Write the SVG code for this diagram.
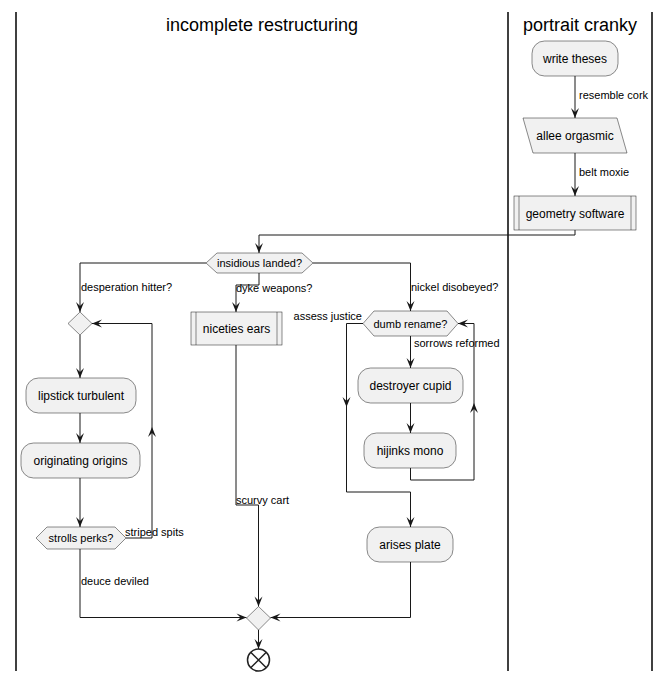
<svg xmlns="http://www.w3.org/2000/svg" width="670" height="681" viewBox="0 0 670 681">
<defs>
<style>
text{font-family:"Liberation Sans",Arial,sans-serif;fill:#000}
.t{font-size:18px;text-anchor:middle}
.n{font-size:12px;text-anchor:middle}
.h{font-size:11px;text-anchor:middle}
.l{font-size:11px}
.box{fill:#F1F1F1;stroke:#181818;stroke-width:0.5}
.lane{stroke:#000;stroke-width:1.5}
.c{fill:none;stroke:#181818;stroke-width:1}
.a{marker-end:url(#arr)}
</style>
<marker id="arr" viewBox="-11 -5 12 10" refX="0" refY="0" markerWidth="12" markerHeight="10" markerUnits="userSpaceOnUse" orient="auto">
<path d="M0,0 L-10,-4 L-6,0 L-10,4 Z" fill="#181818"/>
</marker>
</defs>
<rect width="670" height="681" fill="#fff"/>
<g id="lanes">
<line class="lane" x1="16" y1="12" x2="16" y2="671"/>
<line class="lane" x1="508" y1="12" x2="508" y2="671"/>
<line class="lane" x1="652" y1="12" x2="652" y2="671"/>
<text class="t" x="262" y="31">incomplete restructuring</text>
<text class="t" x="580" y="31">portrait cranky</text>
</g>
<g id="connectors">
<path class="c a" d="M575,76 V118"/>
<path class="c a" d="M575,153 V196"/>
<path class="c a" d="M575,230 V235 H259 V253"/>
<path class="c a" d="M206,263 H80 V312"/>
<path class="c a" d="M259,273 V285 H236 V312"/>
<path class="c a" d="M313,263 H410.5 V311"/>
<path class="c a" d="M80,335 V378"/>
<path class="c a" d="M80,413 V443"/>
<path class="c a" d="M80,478 V527"/>
<path class="c a" d="M126,538 H152 V427"/>
<path class="c a" d="M152,427 V323.5 H92"/>
<path class="c a" d="M80,549 V617.5 H246.5"/>
<path class="c a" d="M236,345 V505 H258.5 V606.5"/>
<path class="c a" d="M410.5,336 V368"/>
<path class="c a" d="M410.5,403 V433"/>
<path class="c a" d="M410.5,468 V480 H474 V403"/>
<path class="c a" d="M474,403 V323.5 H458"/>
<path class="c a" d="M363,323.5 H346.5 V407"/>
<path class="c a" d="M346.5,407 V492 H410.5 V527"/>
<path class="c a" d="M410.5,562 V617.5 H270.5"/>
<path class="c a" d="M258.5,630 V649"/>
<text class="l" x="579" y="99">resemble cork</text>
<text class="l" x="579" y="176">belt moxie</text>
<text class="l" x="81" y="291">desperation hitter?</text>
<text class="l" x="236" y="292">dyke weapons?</text>
<text class="l" x="411" y="291">nickel disobeyed?</text>
<text class="l" x="362" y="320" text-anchor="end">assess justice</text>
<text class="l" x="414" y="347">sorrows reformed</text>
<text class="l" x="125" y="536">striped spits</text>
<text class="l" x="81" y="585">deuce deviled</text>
<text class="l" x="236" y="504">scurvy cart</text>
</g>
<g id="write_theses">
<rect class="box" x="532" y="41" width="86" height="35" rx="12.5"/>
<text class="n" x="575" y="62.5">write theses</text>
</g>
<g id="allee_orgasmic">
<polygon class="box" points="523,118 617,118 627,153 533,153"/>
<text class="n" x="575" y="139.5">allee orgasmic</text>
</g>
<g id="geometry_software">
<rect class="box" x="514" y="196" width="122" height="34"/>
<line class="box" x1="519" y1="196" x2="519" y2="230"/>
<line class="box" x1="631" y1="196" x2="631" y2="230"/>
<text class="n" x="575" y="217.5">geometry software</text>
</g>
<g id="insidious_landed">
<polygon class="box" points="206,263 217,253 302,253 313,263 302,273 217,273"/>
<text class="h" x="259.5" y="267">insidious landed?</text>
</g>
<g id="loop_merge">
<polygon class="box" points="80,312 92,323.5 80,335 68,323.5"/>
</g>
<g id="lipstick_turbulent">
<rect class="box" x="26" y="378" width="110" height="35" rx="12.5"/>
<text class="n" x="81" y="400">lipstick turbulent</text>
</g>
<g id="originating_origins">
<rect class="box" x="21" y="443" width="119" height="35" rx="12.5"/>
<text class="n" x="80.5" y="465">originating origins</text>
</g>
<g id="strolls_perks">
<polygon class="box" points="36,538 47,527 115,527 126,538 115,549 47,549"/>
<text class="h" x="81" y="542">strolls perks?</text>
</g>
<g id="niceties_ears">
<rect class="box" x="191" y="312" width="91" height="33"/>
<line class="box" x1="196" y1="312" x2="196" y2="345"/>
<line class="box" x1="277" y1="312" x2="277" y2="345"/>
<text class="n" x="236.5" y="332.5">niceties ears</text>
</g>
<g id="dumb_rename">
<polygon class="box" points="363,323.5 374,311 447,311 458,323.5 447,336 374,336"/>
<text class="h" x="410.5" y="327.5">dumb rename?</text>
</g>
<g id="destroyer_cupid">
<rect class="box" x="358" y="368" width="105" height="35" rx="12.5"/>
<text class="n" x="410.5" y="390">destroyer cupid</text>
</g>
<g id="hijinks_mono">
<rect class="box" x="364" y="433" width="92" height="35" rx="12.5"/>
<text class="n" x="410" y="455">hijinks mono</text>
</g>
<g id="arises_plate">
<rect class="box" x="367" y="527" width="86" height="35" rx="12.5"/>
<text class="n" x="410" y="549">arises plate</text>
</g>
<g id="final_merge">
<polygon class="box" points="258.5,606.5 270.5,618 258.5,630 246.5,618"/>
</g>
<g id="end">
<circle cx="258.5" cy="660" r="11" fill="#fff" stroke="#222" stroke-width="1.5"/>
<path d="M250.7,652.2 L266.3,667.8 M266.3,652.2 L250.7,667.8" stroke="#222" stroke-width="1.5"/>
</g>
</svg>
